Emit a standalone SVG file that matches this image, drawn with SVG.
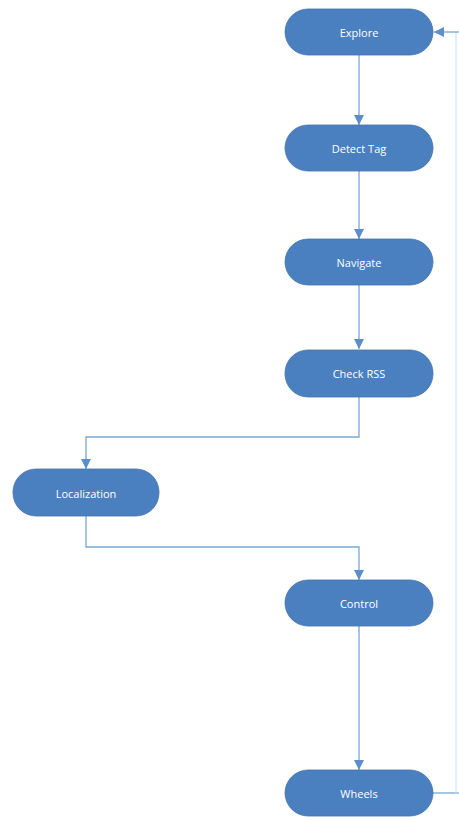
<svg xmlns="http://www.w3.org/2000/svg" width="459" height="817" viewBox="0 0 459 817">
<defs>
<style>
.node rect{fill:#4b80c0;stroke:#4272a8;stroke-width:0.8}
.node text{fill:#ffffff;font-family:"Open Sans","DejaVu Sans",sans-serif;font-size:11px;text-anchor:middle;dominant-baseline:central}
.conn{fill:none;stroke:#7aa6d6;stroke-width:1.3}
.faint{fill:none;stroke:#d6e5f3;stroke-width:1.3}
</style>
<marker id="ah" viewBox="0 0 10 10" refX="10" refY="5" markerWidth="10" markerHeight="10" markerUnits="userSpaceOnUse" orient="auto">
<path d="M0,0 L10,5 L0,10 z" fill="#5b8fcc"/>
</marker>
</defs>
<rect width="459" height="817" fill="#ffffff"/>
<g id="connectors">
<path class="conn" d="M359,55 V125" marker-end="url(#ah)"/>
<path class="conn" d="M359,171 V239" marker-end="url(#ah)"/>
<path class="conn" d="M359,285 V349" marker-end="url(#ah)"/>
<path class="conn" d="M359,397 V437 H86 V469" marker-end="url(#ah)"/>
<path class="conn" d="M86,516 V547 H359 V580" marker-end="url(#ah)"/>
<path class="conn" d="M359,626 V770" marker-end="url(#ah)"/>
<path class="conn" d="M433,793 H459"/>
<path class="faint" d="M456,793 V32"/>
<path class="conn" d="M459,32 H434" marker-end="url(#ah)"/>
</g>
<g id="explore" class="node"><rect x="285" y="9" width="148" height="46" rx="23"/><text x="359" y="32">Explore</text></g>
<g id="detect-tag" class="node"><rect x="285" y="125" width="148" height="46" rx="23"/><text x="359" y="148">Detect Tag</text></g>
<g id="navigate" class="node"><rect x="285" y="239" width="148" height="46" rx="23"/><text x="359" y="262">Navigate</text></g>
<g id="check-rss" class="node"><rect x="285" y="350" width="148" height="47" rx="23"/><text x="359" y="373">Check RSS</text></g>
<g id="localization" class="node"><rect x="13" y="469" width="146" height="47" rx="23"/><text x="86" y="493">Localization</text></g>
<g id="control" class="node"><rect x="285" y="580" width="148" height="46" rx="23"/><text x="359" y="603">Control</text></g>
<g id="wheels" class="node"><rect x="285" y="770" width="148" height="46" rx="23"/><text x="359" y="793">Wheels</text></g>
</svg>
